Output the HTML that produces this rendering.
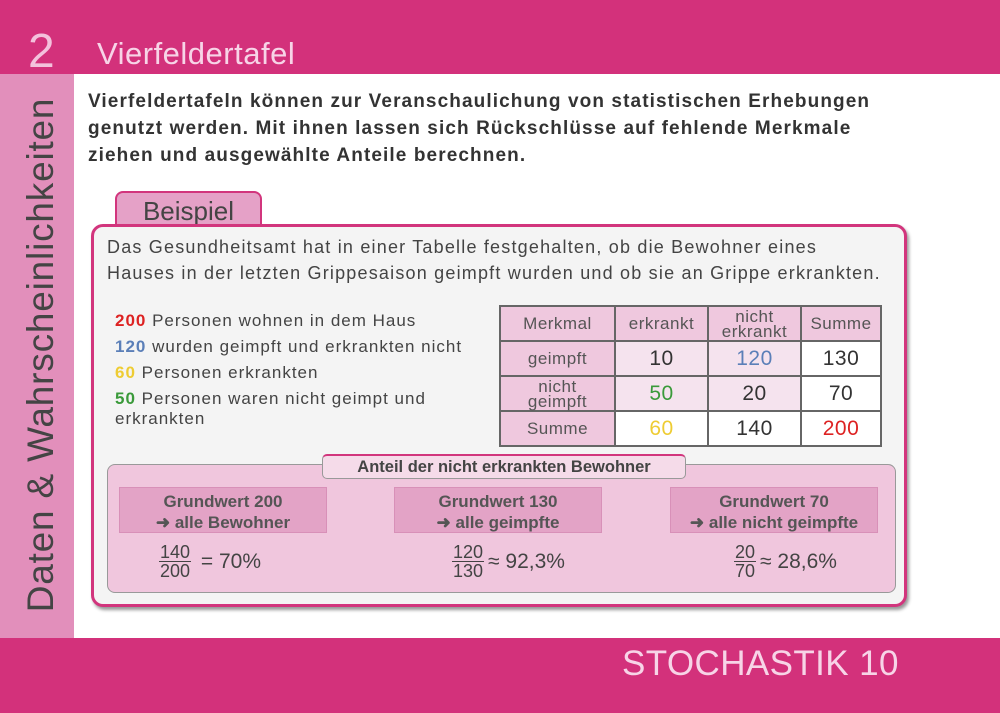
<!DOCTYPE html><html><head><meta charset="utf-8"><style>
body{margin:0;width:1000px;height:713px;position:relative;background:#fff;font-family:"Liberation Sans",sans-serif;color:#444;overflow:hidden}
.a{position:absolute}
td{border:2px solid #666;text-align:center;padding:0;font-size:21px;color:#333;letter-spacing:0.5px}
.p{background:#efc8de;font-size:17px;color:#555}
.g{background:#f5e3ee}
.gw{background:#e3a3c6;position:absolute;top:487px;width:208px;height:46px;text-align:center;font-size:17px;font-weight:bold;color:#555;line-height:21px;padding-top:3px;box-sizing:border-box;border:1px solid #d890b8}
.fr{position:absolute;top:543px;font-size:21px;color:#444;display:flex;align-items:center}
.fr span.f{display:inline-flex;flex-direction:column;align-items:center;font-size:18px;line-height:18px;margin-right:4px}
.fr span.f b{font-weight:normal;border-bottom:1.5px solid #444;padding:0 1px}
</style></head><body>
<div class="a" style="left:0;top:0;width:1000px;height:74px;background:#d3317b"></div>
<div class="a" style="left:28px;top:24px;font-size:48px;color:#f3c1dc;line-height:56px">2</div>
<div class="a" style="left:97px;top:36px;font-size:31px;color:#f7d4e7;letter-spacing:0.5px">Vierfeldertafel</div>
<div class="a" style="left:0;top:74px;width:74px;height:564px;background:#e28fbb"></div>
<div class="a" style="left:41px;top:355px;transform:translate(-50%,-50%) rotate(-90deg);white-space:nowrap;font-size:37px;color:#444;letter-spacing:0.8px">Daten &amp; Wahrscheinlichkeiten</div>
<div class="a" style="left:0;top:638px;width:1000px;height:75px;background:#d3317b"></div>
<div class="a" style="left:622px;top:644px;font-size:35px;color:#f7d4e7;letter-spacing:0.4px">STOCHASTIK 10</div>
<div class="a" style="left:88px;top:88px;font-size:19px;line-height:27px;color:#333;font-weight:bold;letter-spacing:1.1px">Vierfeldertafeln können zur Veranschaulichung von statistischen Erhebungen<br>genutzt werden. Mit ihnen lassen sich Rückschlüsse auf fehlende Merkmale<br>ziehen und ausgewählte Anteile berechnen.</div>
<div class="a" style="left:115px;top:191px;width:147px;height:40px;background:#e5a1c7;border:2px solid #d2357d;border-radius:8px 8px 0 0;box-sizing:border-box;font-size:26px;text-align:center;line-height:36px;color:#444">Beispiel</div>
<div class="a" style="left:91px;top:224px;width:816px;height:383px;background:#f4f4f4;border:3px solid #d2357d;border-radius:12px;box-sizing:border-box;box-shadow:2px 3px 3px #999"></div>
<div class="a" style="left:107px;top:234px;font-size:18px;line-height:26px;color:#444;letter-spacing:1.2px">Das Gesundheitsamt hat in einer Tabelle festgehalten, ob die Bewohner eines<br>Hauses in der letzten Grippesaison geimpft wurden und ob sie an Grippe erkrankten.</div>
<div class="a" style="left:115px;top:308px;font-size:17px;line-height:26px;color:#444;letter-spacing:1px"><b style="color:#d22">200</b> Personen wohnen in dem Haus<br><b style="color:#5b7fb8">120</b> wurden geimpft und erkrankten nicht<br><b style="color:#eecc33">60</b> Personen erkrankten<br><span style="line-height:20px;display:block;margin-top:3px"><b style="color:#3a9a3a">50</b> Personen waren nicht geimpt und<br>erkrankten</span></div>
<table class="a" style="left:499px;top:305px;border-collapse:collapse;width:383px;height:140px">
<tr style="height:35px"><td class="p" style="width:113px">Merkmal</td><td class="p" style="width:91px">erkrankt</td><td class="p" style="width:91px;line-height:15px">nicht<br>erkrankt</td><td class="p">Summe</td></tr>
<tr style="height:35px"><td class="p">geimpft</td><td class="g">10</td><td class="g" style="color:#5b7fb8">120</td><td style="background:#fff">130</td></tr>
<tr style="height:35px"><td class="p" style="line-height:15px">nicht<br>geimpft</td><td class="g" style="color:#3a9a3a">50</td><td class="g">20</td><td style="background:#fff">70</td></tr>
<tr style="height:35px"><td class="p">Summe</td><td style="color:#eecc33;background:#fff">60</td><td style="background:#fff">140</td><td style="color:#d22;background:#fff">200</td></tr></table>
<div class="a" style="left:107px;top:464px;width:789px;height:129px;background:#f0c6dd;border:1px solid #999;border-radius:8px;box-sizing:border-box"></div>
<div class="a" style="left:322px;top:454px;width:362px;height:22px;background:#f5dbe9;border:1px solid #999;border-top:2px solid #d2357d;border-radius:5px;text-align:center;font-size:16.5px;font-weight:bold;color:#444;line-height:22px">Anteil der nicht erkrankten Bewohner</div>
<div class="gw" style="left:119px">Grundwert 200<br>➜ alle Bewohner</div>
<div class="gw" style="left:394px">Grundwert 130<br>➜ alle geimpfte</div>
<div class="gw" style="left:670px">Grundwert 70<br>➜ alle nicht geimpfte</div>
<div class="fr" style="left:159px"><span class="f"><b>140</b>200</span>&nbsp;= 70%</div>
<div class="fr" style="left:452px"><span class="f"><b>120</b>130</span>≈ 92,3%</div>
<div class="fr" style="left:734px"><span class="f"><b>20</b>70</span>≈ 28,6%</div>
</body></html>
